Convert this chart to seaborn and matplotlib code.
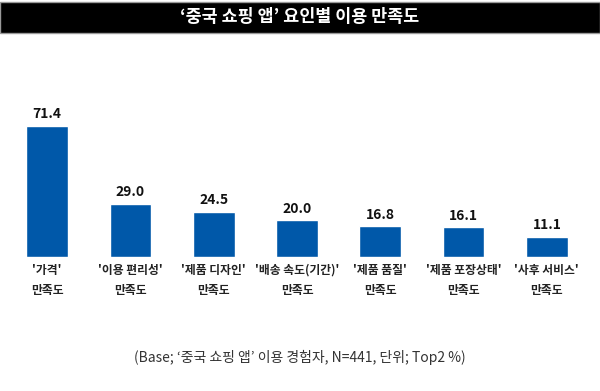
import matplotlib
matplotlib.use('Agg')
import matplotlib.pyplot as plt
import seaborn as sns
import pandas as pd

categories = ["'가격'\n만족도", "'이용 편리성'\n만족도", "'제품 디자인'\n만족도",
              "'배송 속도(기간)'\n만족도", "'제품 품질'\n만족도", "'제품 포장상태'\n만족도",
              "'사후 서비스'\n만족도"]
values = [71.4, 29.0, 24.5, 20.0, 16.8, 16.1, 11.1]

sns.set_style('white')
plt.rcParams['font.family'] = ['Noto Sans CJK KR', 'DejaVu Sans']

df = pd.DataFrame({'cat': categories, 'val': values})

fig = plt.figure(figsize=(6, 3.91), dpi=100)
ax = fig.add_axes([5.5 / 600, (391 - 257) / 391, 583 / 600, 146.8 / 391])
sns.barplot(data=df, x='cat', y='val', color='#0058A9', width=0.5, saturation=1, ax=ax)
ax.set_xlim(-0.5, 6.5)
ax.set_ylim(0, 80)
for i, v in enumerate(values):
    ax.text(i, v + 2.5, f'{v:.1f}', ha='center', va='bottom', fontsize=10, fontweight='bold', color='#111111')
ax.set_xlabel('')
ax.set_ylabel('')
ax.set_yticks([])
ax.tick_params(axis='x', length=0, pad=5, labelsize=8.5)
for t in ax.get_xticklabels():
    t.set_fontweight('bold')
    t.set_color('#222222')
    t.set_linespacing(1.75)
sns.despine(ax=ax, left=True, bottom=True)

# title bar
fig.patches.append(plt.Rectangle((0, 1 - 33 / 391), 1, 31 / 391, transform=fig.transFigure,
                                 facecolor='black', edgecolor='#999999', lw=1))
fig.text(0.5, 1 - 17 / 391, '‘중국 쇼핑 앱’ 요인별 이용 만족도', ha='center', va='center',
         color='white', fontsize=12.5, fontweight='bold')
fig.text(0.5, 1 - 357 / 391, '(Base; ‘중국 쇼핑 앱’ 이용 경험자, N=441, 단위; Top2 %)',
         ha='center', va='center', color='#333333', fontsize=10)

fig.savefig('out.png', dpi=100)
